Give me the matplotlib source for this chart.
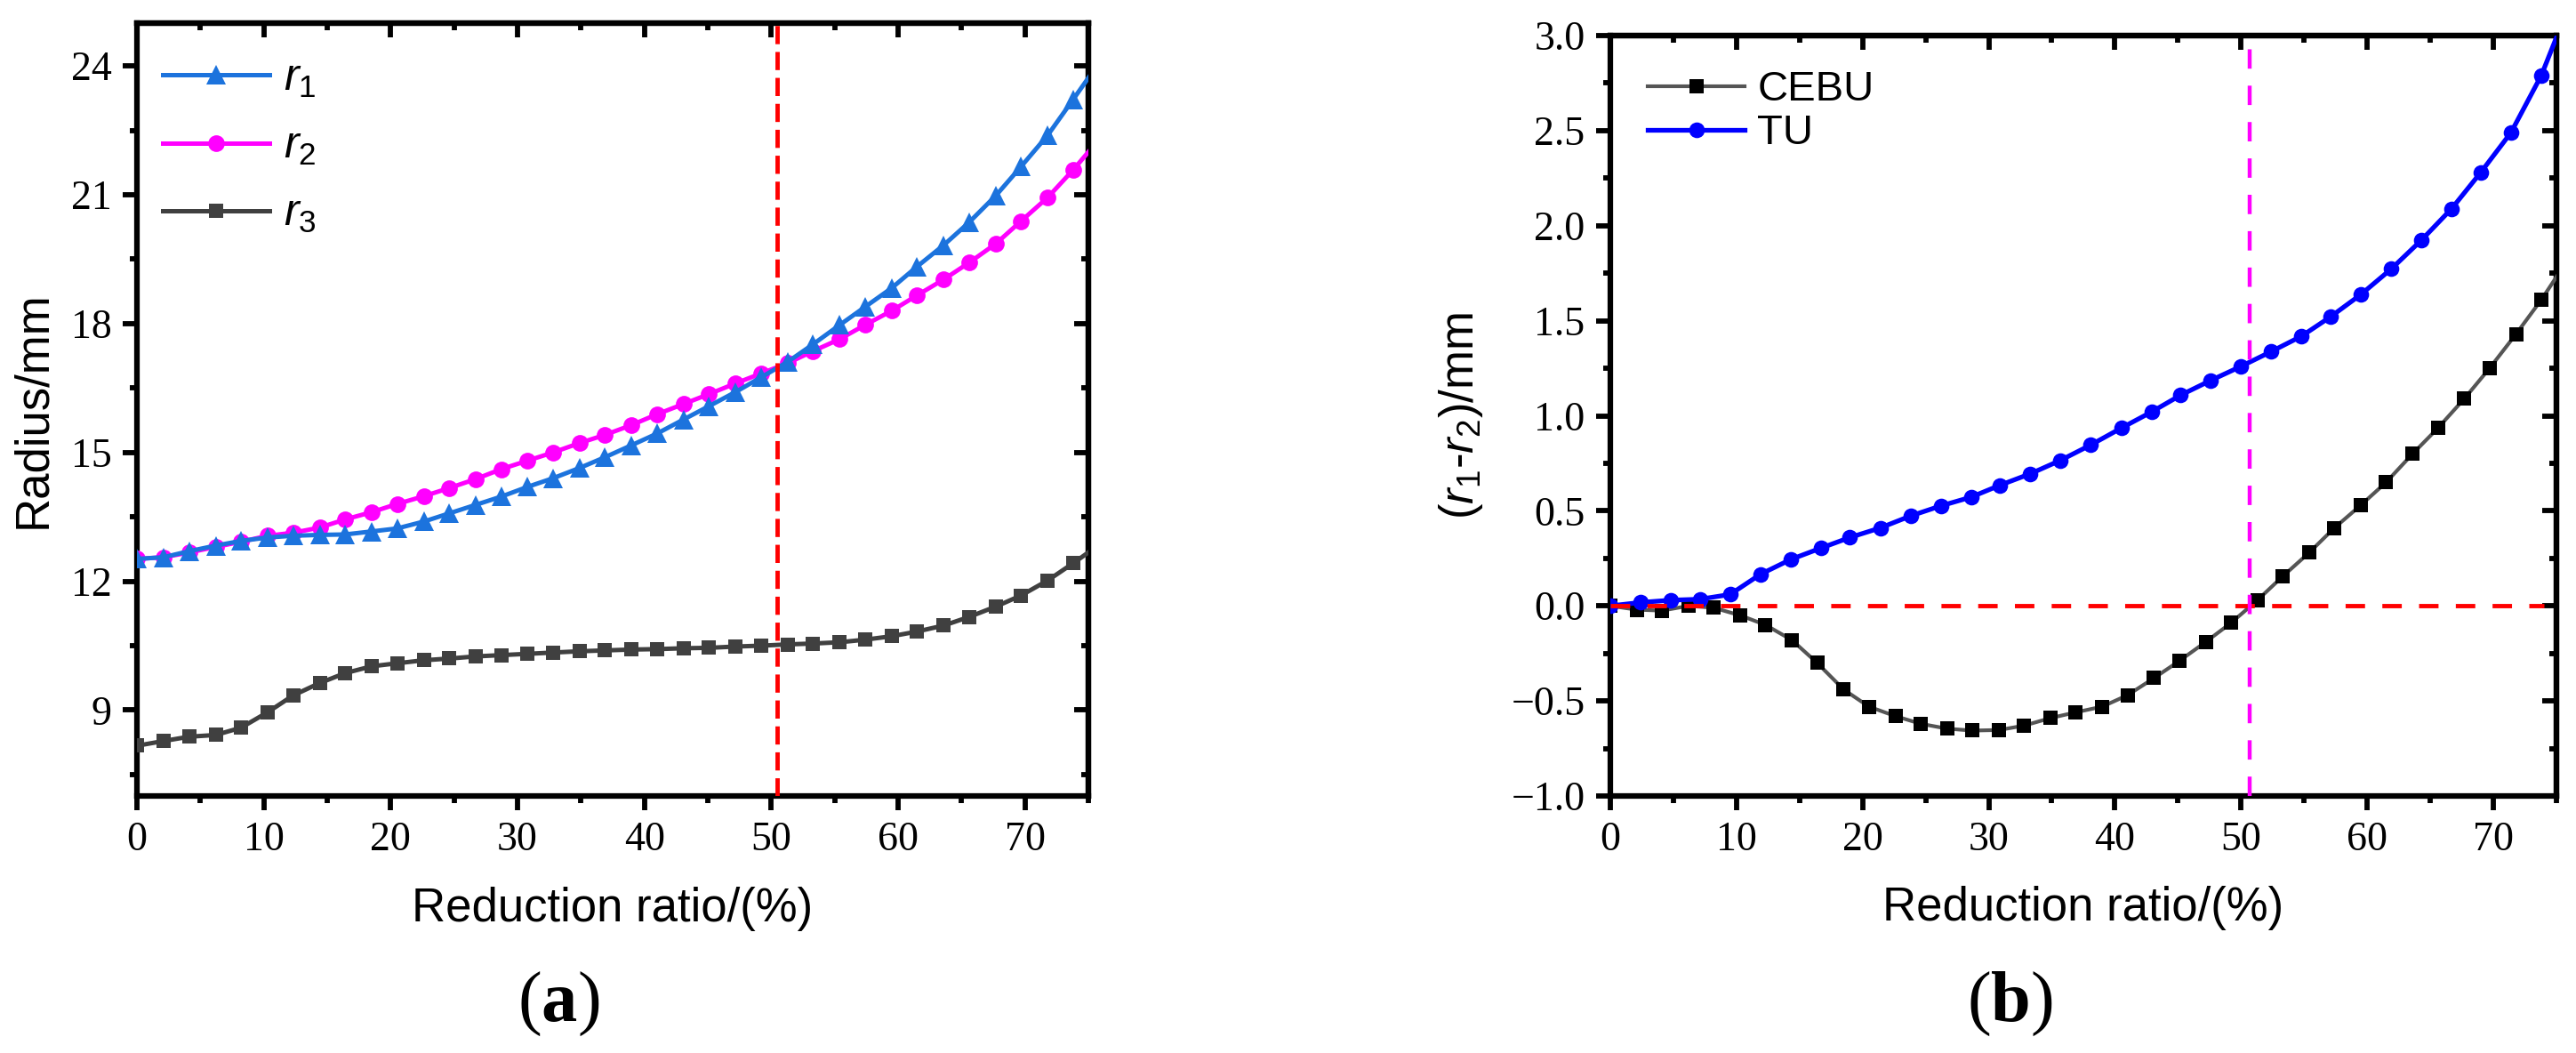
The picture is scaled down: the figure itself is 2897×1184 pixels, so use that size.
import matplotlib
matplotlib.use("Agg")
import matplotlib.pyplot as plt
from matplotlib.ticker import MultipleLocator

plt.rcParams['font.family'] = ['Liberation Sans', 'DejaVu Sans']
plt.rcParams['mathtext.fontset'] = 'custom'
plt.rcParams['mathtext.it'] = 'Liberation Sans:italic'
plt.rcParams['mathtext.rm'] = 'Liberation Sans'
plt.rcParams['mathtext.bf'] = 'Liberation Serif:bold'

# reduction ratio (%) for panel (a) and the CEBU curve
x_a = [0, 2.1, 4.1, 6.2, 8.2, 10.3, 12.3, 14.4, 16.4, 18.5, 20.5, 22.6, 24.6,
       26.7, 28.7, 30.8, 32.8, 34.9, 36.9, 39.0, 41.0, 43.1, 45.1, 47.2, 49.2,
       51.3, 53.3, 55.4, 57.4, 59.5, 61.5, 63.6, 65.6, 67.7, 69.7, 71.8, 73.8, 75.9]
r1 = [12.52, 12.56, 12.70, 12.83, 12.94, 13.02, 13.06, 13.08, 13.09, 13.16, 13.23,
      13.39, 13.58, 13.78, 13.97, 14.2, 14.4, 14.64, 14.89, 15.17, 15.44, 15.77,
      16.08, 16.41, 16.75, 17.11, 17.52, 17.97, 18.39, 18.83, 19.33, 19.83, 20.36,
      20.98, 21.66, 22.39, 23.22, 24.1]
r2 = [12.52, 12.56, 12.67, 12.8, 12.92, 13.06, 13.13, 13.25, 13.44, 13.61, 13.8,
      13.98, 14.17, 14.38, 14.61, 14.81, 15.0, 15.22, 15.41, 15.64, 15.89, 16.13,
      16.36, 16.61, 16.84, 17.08, 17.36, 17.64, 17.97, 18.3, 18.66, 19.03, 19.42,
      19.86, 20.39, 20.94, 21.58, 22.31]
r3 = [8.17, 8.28, 8.38, 8.42, 8.59, 8.95, 9.34, 9.63, 9.86, 10.02, 10.09, 10.16,
      10.2, 10.25, 10.28, 10.31, 10.34, 10.37, 10.39, 10.41, 10.42, 10.44, 10.45,
      10.48, 10.5, 10.53, 10.55, 10.58, 10.64, 10.72, 10.83, 10.97, 11.17, 11.41,
      11.67, 12.02, 12.42, 12.86]

cebu = [0.0, -0.02, -0.025, 0.0, -0.01, -0.05, -0.1, -0.18, -0.30, -0.44, -0.53,
        -0.58, -0.62, -0.646, -0.656, -0.653, -0.63, -0.59, -0.56, -0.53, -0.47,
        -0.38, -0.29, -0.19, -0.09, 0.03, 0.155, 0.28, 0.41, 0.53, 0.65, 0.80,
        0.935, 1.09, 1.25, 1.43, 1.61, 1.82]

x_tu = [0, 2.4, 4.8, 7.1, 9.5, 11.9, 14.3, 16.7, 19.0, 21.4, 23.8, 26.2, 28.6,
        30.9, 33.3, 35.7, 38.1, 40.5, 42.9, 45.2, 47.6, 50.0, 52.4, 54.8, 57.1,
        59.5, 61.9, 64.3, 66.7, 69.0, 71.4, 73.8, 76.2]
tu = [0.0, 0.018, 0.03, 0.035, 0.06, 0.166, 0.244, 0.304, 0.36, 0.41, 0.473,
      0.526, 0.572, 0.635, 0.695, 0.766, 0.847, 0.935, 1.02, 1.108, 1.186, 1.26,
      1.338, 1.419, 1.521, 1.638, 1.772, 1.924, 2.09, 2.28, 2.49, 2.79, 3.19]

x_mark_a = 50.5
x_mark_b = 50.7

fig = plt.figure(figsize=(28.97, 11.84), dpi=100)
ax1 = fig.add_axes([0.0532, 0.2441, 0.3693, 0.7340])
ax2 = fig.add_axes([0.6251, 0.2441, 0.3673, 0.7221])


def style_axis(ax, xmaj, xmin, ymaj, ymin):
    for s in ax.spines.values():
        s.set_linewidth(4.5)
    ax.xaxis.set_major_locator(MultipleLocator(xmaj))
    ax.xaxis.set_minor_locator(MultipleLocator(xmin))
    ax.yaxis.set_major_locator(MultipleLocator(ymaj))
    ax.yaxis.set_minor_locator(MultipleLocator(ymin))
    ax.tick_params(which='both', direction='out', width=4.2, labelsize=33, pad=9,
                   labelfontfamily='Liberation Serif')
    ax.tick_params(which='major', length=11.5)
    ax.tick_params(which='minor', length=6)
    # mirrored ticks on top and right, pointing inwards
    top = ax.secondary_xaxis('top')
    right = ax.secondary_yaxis('right')
    top.xaxis.set_major_locator(MultipleLocator(xmaj))
    top.xaxis.set_minor_locator(MultipleLocator(xmin))
    right.yaxis.set_major_locator(MultipleLocator(ymaj))
    right.yaxis.set_minor_locator(MultipleLocator(ymin))
    for sec in (top, right):
        for s in sec.spines.values():
            s.set_linewidth(4.5)
        sec.tick_params(which='both', direction='in', width=4.2,
                        labeltop=False, labelright=False)
        sec.tick_params(which='major', length=11.5)
        sec.tick_params(which='minor', length=6)


# ---- panel (a)
ax1.plot(x_a, r3, color='#404040', lw=3.6, marker='s', ms=12, mew=0, label=r'$r_3$', zorder=3)
ax1.plot(x_a, r2, color='#FF00FF', lw=3.6, marker='o', ms=13.5, mew=0, label=r'$r_2$', zorder=4)
ax1.plot(x_a, r1, color='#1C73DD', lw=3.6, marker='^', ms=15.5, mew=0, label=r'$r_1$', zorder=5)
ax1.axvline(x_mark_a, color='#FF0000', lw=3.5, dashes=(4.2, 1.8), zorder=6)
ax1.set_xlim(0, 75)
ax1.set_ylim(7, 25)
ax1.set_xlabel('Reduction ratio/(%)', fontsize=38, va='center')
ax1.set_ylabel('Radius/mm', fontsize=38, va='center')
ax1.xaxis.set_label_coords(0.5, -0.146)
ax1.yaxis.set_label_coords(-0.109, 0.5)
style_axis(ax1, 10, 5, 3, 1.5)
h, l = ax1.get_legend_handles_labels()
ax1.legend(h[::-1], l[::-1], loc='upper left', bbox_to_anchor=(0.027, 0.954),
           frameon=False, fontsize=36, handlelength=2.4, handletextpad=0.32,
           labelspacing=0.6, borderpad=0, borderaxespad=0)

# ---- panel (b)
ax2.plot(x_a, cebu, color='#555555', lw=3.0, marker='s', ms=11.3, mfc='black', mec='black',
         mew=0, label='CEBU', zorder=3)
ax2.plot(x_tu, tu, color='#0000FF', lw=3.8, marker='o', ms=12.7, mew=0, label='TU', zorder=4)
ax2.plot([0, 74], [0, 0], color='#FF0000', lw=3.5, dashes=(4.5, 4.0), zorder=6)
ax2.axvline(x_mark_b, color='#FF00FF', lw=3.2, dashes=(4.9, 4.3), zorder=6)
ax2.set_xlim(0, 75)
ax2.set_ylim(-1, 3)
ax2.yaxis.set_major_formatter(plt.FuncFormatter(lambda v, p: ('%.1f' % v).replace('-', '\u2212')))
ax2.set_xlabel('Reduction ratio/(%)', fontsize=38, va='center')
ax2.set_ylabel(r'($r_1$-$r_2$)/mm', fontsize=38, va='center')
ax2.xaxis.set_label_coords(0.5, -0.147)
ax2.yaxis.set_label_coords(-0.158, 0.5)
style_axis(ax2, 10, 5, 0.5, 0.25)
ax2.legend(loc='upper left', bbox_to_anchor=(0.040, 0.954), frameon=False, fontsize=34,
           handlelength=2.3, handletextpad=0.3, labelspacing=0.1, borderpad=0,
           borderaxespad=0)

fig.text(0.2168, 0.047, r'($\mathbf{a}$)', fontsize=58, family='Liberation Serif',
         ha='center', va='center')
fig.text(0.7801, 0.047, r'($\mathbf{b}$)', fontsize=58, family='Liberation Serif',
         ha='center', va='center')

fig.canvas.draw()
for ax in (ax1, ax2):
    for lab in ax.get_xticklabels() + ax.get_yticklabels():
        lab.set_fontfamily('Liberation Serif')

fig.savefig('out.png', dpi=100)
